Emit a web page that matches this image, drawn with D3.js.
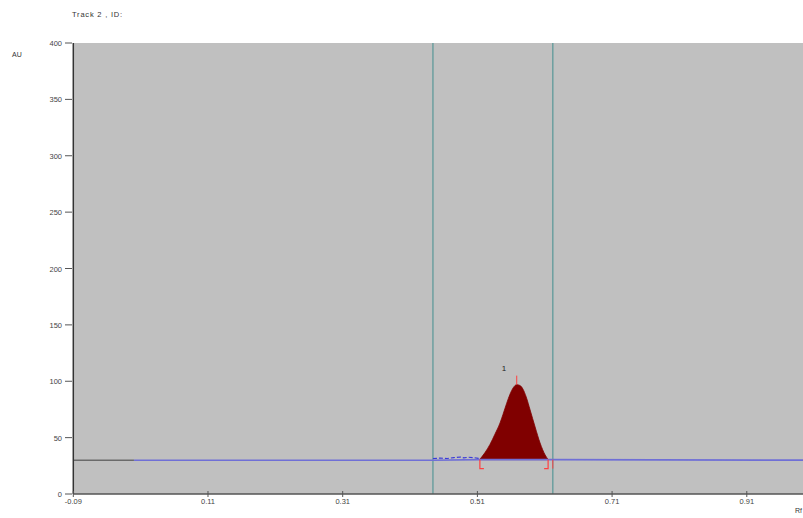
<!DOCTYPE html>
<html><head><meta charset="utf-8">
<script src="https://cdn.jsdelivr.net/npm/d3@7"></script>
<style>body{margin:0;background:#fff}svg{display:block}text{font-family:"Liberation Sans",Arial,sans-serif}</style>
</head><body><svg id="c" width="803" height="518"></svg>
<script>
const title = "Track 2 , ID:";
const yTicks = [0, 50, 100, 150, 200, 250, 300, 350, 400];
const xTicks = [-0.09, 0.11, 0.31, 0.51, 0.71, 0.91];
const markers = [0.444, 0.622];
const preBaseline = [[-0.09, 30], [0.0, 30]];
const baseline = [[0.0, 30], [0.444, 30], [0.514, 30.5], [0.615, 30.5], [1.0, 30]];
const noise = [[0.444, 31.5], [0.455, 31.8], [0.465, 31.5], [0.475, 32.3], [0.485, 32.8], [0.49, 32.0], [0.497, 32.6], [0.505, 32.2], [0.514, 31.5]];
const peakRf = [0.5137, 0.521, 0.5287, 0.536, 0.5436, 0.548, 0.5535, 0.5584, 0.5635, 0.5684, 0.5733, 0.5777, 0.5825, 0.5883, 0.5957, 0.6031, 0.6106, 0.615];
const peakAU = [30.8, 36.5, 44.0, 53.0, 63.0, 70.5, 80.5, 88.5, 94.5, 97.0, 96.2, 93.0, 86.0, 74.5, 59.4, 45.2, 34.6, 30.6];
const peakLabel = "1";

const svg = d3.select("#c");
const x = d3.scaleLinear().domain([-0.09, 1.0]).range([73.3, 807.4]);
const y = d3.scaleLinear().domain([0, 400]).range([494, 43]);

svg.append("rect").attr("x", x(-0.09)).attr("y", y(400)).attr("width", 803 - x(-0.09)).attr("height", y(0) - y(400)).attr("fill", "#c0c0c0");

svg.selectAll(".mk").data(markers).enter().append("line")
  .attr("x1", d => x(d)).attr("x2", d => x(d)).attr("y1", y(400)).attr("y2", y(0))
  .attr("stroke", "#5f9a9a").attr("stroke-width", 1.3);

const line = d3.line().x(d => x(d[0])).y(d => y(d[1]));
const peak = peakRf.map((r, i) => [r, peakAU[i]]);

const area = d3.area().x(d => x(d[0])).y0(y(30.5)).y1(d => y(d[1])).curve(d3.curveMonotoneX);
svg.append("path").datum(peak).attr("d", area)
  .attr("fill", "#800000").attr("stroke", "#800000").attr("stroke-width", 0.8);

svg.append("path").datum(baseline).attr("d", line).attr("fill", "none").attr("stroke", "#6f6fd6").attr("stroke-width", 1.6);
svg.append("path").datum(preBaseline).attr("d", line).attr("fill", "none").attr("stroke", "#6a6a6a").attr("stroke-width", 1.6);
svg.append("path").datum(noise).attr("d", line).attr("fill", "none").attr("stroke", "#3a3ad8").attr("stroke-width", 1.2).attr("stroke-dasharray", "4,2");

const pk = peak.reduce((a, b) => b[1] > a[1] ? b : a);
const red = "#ff4040";
svg.append("line").attr("x1", x(pk[0])).attr("x2", x(pk[0])).attr("y1", y(pk[1]) - 9).attr("y2", y(pk[1])).attr("stroke", red).attr("stroke-width", 1);
const bL = x(peakRf[0]), bR = x(peakRf[peakRf.length - 1]), by = y(30.5);
svg.append("path").attr("d", `M${bL + 4},${by + 9}H${bL}V${by}`).attr("fill", "none").attr("stroke", red).attr("stroke-width", 1.2);
svg.append("path").attr("d", `M${bR - 4},${by + 9}H${bR}V${by}`).attr("fill", "none").attr("stroke", red).attr("stroke-width", 1.2);
svg.append("line").attr("x1", x(0.622)).attr("x2", x(0.622)).attr("y1", by).attr("y2", by + 9).attr("stroke", red).attr("stroke-width", 1);
svg.append("text").attr("x", x(pk[0]) - 15).attr("y", y(pk[1]) - 14).attr("font-size", 8).attr("fill", "#222").text(peakLabel);

svg.append("line").attr("x1", x(-0.09)).attr("x2", 803).attr("y1", y(0)).attr("y2", y(0)).attr("stroke", "#555").attr("stroke-width", 1.5);
svg.append("line").attr("x1", x(-0.09)).attr("x2", x(-0.09)).attr("y1", y(400)).attr("y2", y(0)).attr("stroke", "#333").attr("stroke-width", 1.5);

const yt = svg.selectAll(".yt").data(yTicks).enter().append("g");
yt.append("line").attr("x1", 65).attr("x2", 72).attr("y1", d => y(d)).attr("y2", d => y(d)).attr("stroke", "#555");
yt.append("text").attr("x", 62).attr("y", d => y(d) + 3).attr("text-anchor", "end").attr("font-size", 7.5).attr("fill", "#444").text(d => d);

const xt = svg.selectAll(".xt").data(xTicks).enter().append("g");
xt.append("line").attr("x1", d => x(d)).attr("x2", d => x(d)).attr("y1", y(0) - 3).attr("y2", y(0) + 3).attr("stroke", "#555");
xt.append("text").attr("x", d => x(d)).attr("y", y(0) + 10).attr("text-anchor", "middle").attr("font-size", 7.5).attr("fill", "#444").text(d => d.toFixed(2));

svg.append("text").attr("x", 72).attr("y", 17).attr("font-size", 7.5).attr("fill", "#333").attr("letter-spacing", 0.8).text(title);
svg.append("text").attr("x", 12).attr("y", 57).attr("font-size", 7).attr("fill", "#333").text("AU");
svg.append("text").attr("x", 795).attr("y", 513).attr("font-size", 7).attr("fill", "#333").text("Rf");
</script></body></html>
